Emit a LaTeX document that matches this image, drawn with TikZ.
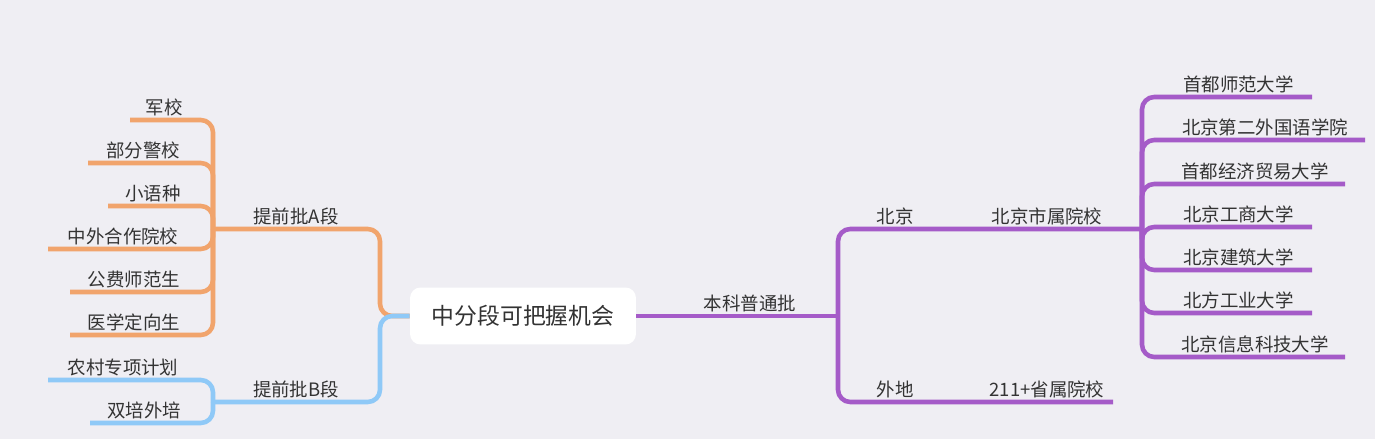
\documentclass[tikz,border=0pt]{standalone}
\usepackage{fontspec}
\newfontfamily\cjk{Noto Sans CJK SC}
\definecolor{bg}{HTML}{EFEEF3}
\definecolor{cA}{HTML}{F1A46C}
\definecolor{cB}{HTML}{8FC9F7}
\definecolor{cP}{HTML}{A55BC8}
\definecolor{txt}{HTML}{333333}
\tikzset{
  branch/.style={line width=2.6pt,rounded corners=7pt},
  label/.style={inner sep=2pt,anchor=south,text=txt,font=\cjk\fontsize{10.5}{12}\selectfont},
}
\begin{document}
\begin{tikzpicture}[x=0.02cm,y=-0.02cm]
\fill[bg] (0,0) rectangle (1375,439);
% root
\node[fill=white,rounded corners=6pt,minimum width=4.52cm,minimum height=1.14cm,
  text=txt,font=\cjk\fontsize{13}{15}\selectfont] (root) at (523,316) {中分段可把握机会};
% left A
\coordinate (A) at (213,229);
\node[label] (Alab) at (296,229) {提前批A段};
\draw[branch,cA] (root.west) -- (380,316) -- (380,229) -- (A);
\foreach \t/\y/\x [count=\i] in {军校/120/130,部分警校/163/88,小语种/206/108,中外合作院校/249/48,公费师范生/292/70,医学定向生/335/70}{
  \coordinate (a\i) at (\x,\y);
  \node[label] at ({(\x+198)/2},\y) {\t};
  \draw[branch,cA] (A) -- (213,\y) -- (a\i);
}
% left B
\coordinate (B) at (213,402);
\node[label] (Blab) at (296,402) {提前批B段};
\draw[branch,cB] (root.west) -- (380,316) -- (380,402) -- (B);
\foreach \t/\y/\x [count=\i] in {农村专项计划/380/48,双培外培/423/90}{
  \coordinate (b\i) at (\x,\y);
  \node[label] at ({(\x+198)/2},\y) {\t};
  \draw[branch,cB] (B) -- (213,\y) -- (b\i);
}
% right
\coordinate (P) at (838,316);
\node[label] (Plab) at (750,316) {本科普通批};
\draw[branch,cP] (root.east) -- (P);
\draw[branch,cP] (1142,229) -- (838,229) -- (838,402) -- (1113,402);
\node[label] (bj) at (895,229) {北京};
\node[label] (bjs) at (1047,229) {北京市属院校};
\node[label] (wd) at (895,402) {外地};
\node[label] (sy) at (1047,402) {211+省属院校};
\coordinate (Q) at (1142,229);
\foreach \t/\y/\x [count=\i] in {首都师范大学/97/1312,北京第二外国语学院/140/1365,首都经济贸易大学/184/1345,北京工商大学/227/1312,北京建筑大学/270/1312,北方工业大学/313/1312,北京信息科技大学/357/1345}{
  \coordinate (p\i) at (\x,\y);
  \node[label] at ({(\x+1165)/2},\y) {\t};
  \draw[branch,cP] (Q) -- (1142,\y) -- (p\i);
}
\end{tikzpicture}
\end{document}
